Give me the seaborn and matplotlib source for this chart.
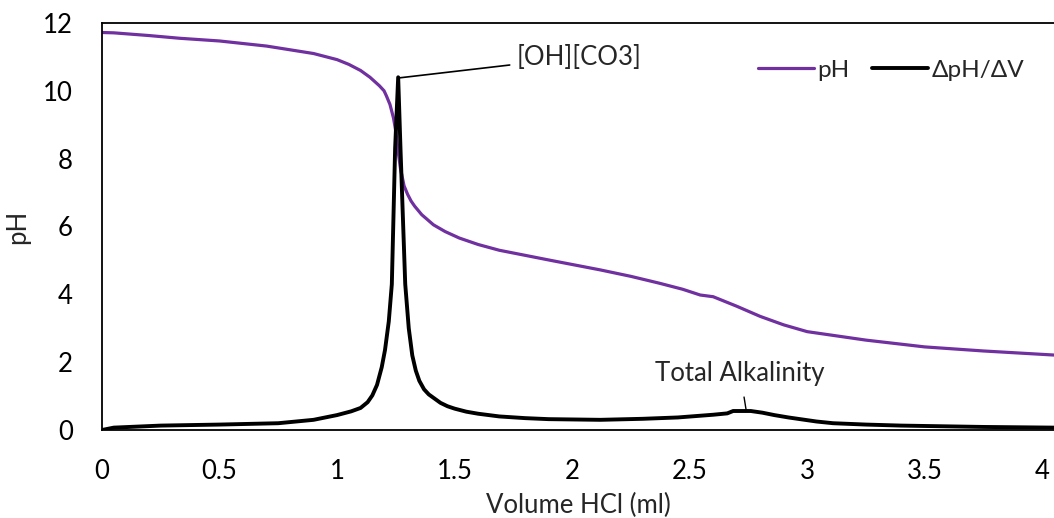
import pandas as pd
import matplotlib.pyplot as plt
import seaborn as sb

# titration curve
vol_ph = [0.0, 0.05, 0.2, 0.33, 0.5, 0.7, 0.9, 1.0, 1.05, 1.1, 1.14, 1.18, 1.2, 1.21,
          1.225, 1.24, 1.25, 1.26, 1.27, 1.285, 1.3, 1.315, 1.33, 1.36, 1.41, 1.46,
          1.52, 1.6, 1.69, 1.8, 1.91, 2.0, 2.12, 2.25, 2.37, 2.47, 2.545, 2.6, 2.7,
          2.8, 2.9, 3.0, 3.12, 3.25, 3.5, 3.75, 4.05]
ph = [11.72, 11.71, 11.63, 11.55, 11.47, 11.32, 11.1, 10.92, 10.78, 10.6, 10.4, 10.15,
      10.0, 9.85, 9.6, 9.2, 8.8, 8.2, 7.7, 7.2, 6.95, 6.75, 6.6, 6.35, 6.05, 5.85,
      5.66, 5.47, 5.3, 5.15, 5.0, 4.88, 4.72, 4.53, 4.33, 4.15, 3.98, 3.93, 3.65,
      3.35, 3.1, 2.9, 2.78, 2.65, 2.45, 2.33, 2.21]

# first derivative dpH/dV
vol_d = [0.0, 0.05, 0.25, 0.5, 0.75, 0.9, 1.0, 1.06, 1.1, 1.13, 1.15, 1.17, 1.19,
         1.204, 1.22, 1.233, 1.247, 1.26, 1.27, 1.29, 1.305, 1.32, 1.335, 1.35,
         1.37, 1.39, 1.41, 1.44, 1.47, 1.5, 1.55, 1.6, 1.69, 1.8, 1.9, 2.12, 2.3,
         2.45, 2.6, 2.66, 2.685, 2.76, 2.81, 2.86, 2.92, 2.97, 3.04, 3.11, 3.25,
         3.4, 3.75, 4.05]
dph = [0.0, 0.07, 0.13, 0.16, 0.2, 0.3, 0.44, 0.55, 0.65, 0.82, 1.02, 1.33, 1.85,
       2.36, 3.2, 4.3, 8.3, 10.4, 8.26, 4.3, 3.0, 2.2, 1.75, 1.45, 1.2, 1.05, 0.95,
       0.8, 0.7, 0.63, 0.54, 0.48, 0.4, 0.35, 0.32, 0.3, 0.33, 0.37, 0.45, 0.49,
       0.56, 0.56, 0.51, 0.44, 0.37, 0.32, 0.25, 0.2, 0.16, 0.13, 0.09, 0.07]

purple = '#7030A0'

sb.set_style('white')
plt.rcParams['font.family'] = ['Lato', 'DejaVu Sans']
fs = 18.5

fig = plt.figure(figsize=(10.54, 5.18), dpi=100)
ax = fig.add_axes([102 / 1054, 1 - 430 / 518, 1 - 102 / 1054, (430 - 23) / 518])

df_ph = pd.DataFrame({'vol': vol_ph, 'val': ph})
df_d = pd.DataFrame({'vol': vol_d, 'val': dph})
sb.lineplot(x='vol', y='val', data=df_ph, color=purple, linewidth=2.3, label='pH', ax=ax)
sb.lineplot(x='vol', y='val', data=df_d, color='black', linewidth=2.8,
            label='\u0394pH/\u0394V', ax=ax)

ax.set_xlim(0, 4.05)
ax.set_ylim(0, 12)
ax.set_xticks([0, 0.5, 1, 1.5, 2, 2.5, 3, 3.5, 4])
ax.set_xticklabels(['0', '0.5', '1', '1.5', '2', '2.5', '3', '3.5', '4'])
ax.set_yticks([0, 2, 4, 6, 8, 10, 12])
ax.tick_params(axis='both', length=0, labelsize=fs, labelcolor='black')
ax.tick_params(axis='y', pad=21)
ax.tick_params(axis='x', pad=21)
for side in ['left', 'bottom', 'top']:
    ax.spines[side].set_color('black')
    ax.spines[side].set_linewidth(1.3)
ax.spines['right'].set_visible(False)

ax.set_xlabel('Volume HCl (ml)', fontsize=fs, labelpad=6)
ax.set_ylabel('pH', fontsize=fs, labelpad=9)

ax.annotate('[OH][CO3]', xy=(1.262, 10.38), xytext=(1.766, 10.97), fontsize=fs,
            ha='left', va='center',
            arrowprops=dict(arrowstyle='-', color='black', lw=1.2, shrinkA=3, shrinkB=0,
                            connectionstyle='arc,angleA=180,armA=9,angleB=0,armB=0,rad=0'))
ax.annotate('Total Alkalinity', xy=(2.74, 0.6), xytext=(2.715, 1.68), fontsize=fs,
            ha='center', va='center',
            arrowprops=dict(arrowstyle='-', color='black', lw=1.0, shrinkA=6, shrinkB=0))

ax.legend(loc='center left', bbox_to_anchor=(758 / 1054, 1 - 70 / 518),
          bbox_transform=fig.transFigure, ncol=2, frameon=False, fontsize=17.5,
          borderpad=0, borderaxespad=0, handlelength=2.3, handletextpad=0.15,
          columnspacing=0.9)

fig.savefig('out.png', dpi=100)
